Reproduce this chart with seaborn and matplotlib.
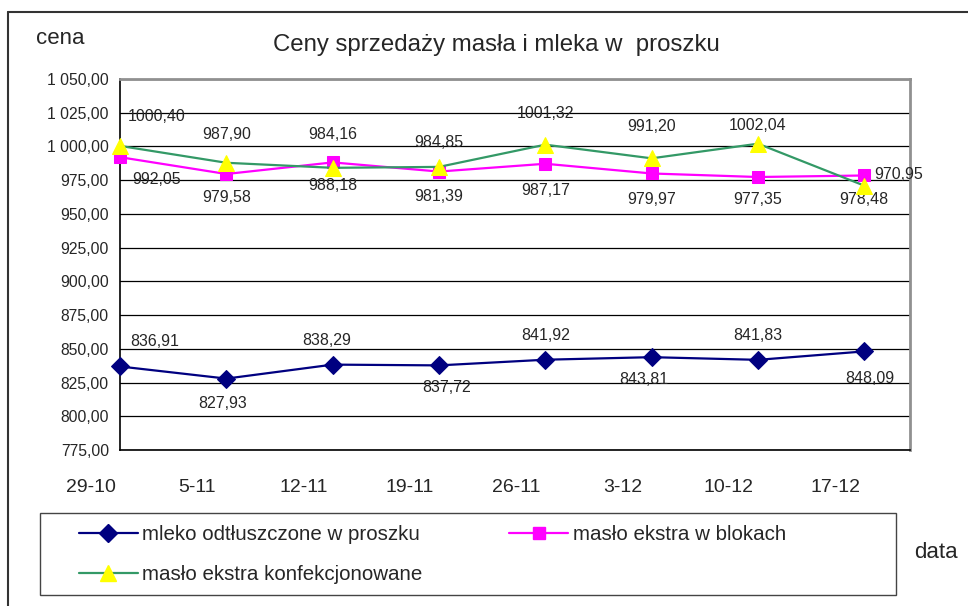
import matplotlib
matplotlib.use("Agg")
import matplotlib.pyplot as plt
import matplotlib.transforms as mtransforms
from matplotlib.lines import Line2D
from matplotlib.patches import Rectangle
from matplotlib.ticker import FuncFormatter, MultipleLocator, FixedLocator, NullFormatter
import seaborn as sns
import pandas as pd

# dane
daty = ["29-10", "5-11", "12-11", "19-11", "26-11", "3-12", "10-12", "17-12"]
mleko = [836.91, 827.93, 838.29, 837.72, 841.92, 843.81, 841.83, 848.09]
maslo_bloki = [992.05, 979.58, 988.18, 981.39, 987.17, 979.97, 977.35, 978.48]
maslo_konf = [1000.40, 987.90, 984.16, 984.85, 1001.32, 991.20, 1002.04, 970.95]

nazwy = ["mleko odtłuszczone w proszku", "masło ekstra w blokach",
         "masło ekstra konfekcjonowane"]

# przesuniecia etykiet danych (piksele)
off_mleko = [(35, 25), (-4, -25), (-6, 24), (8, -22), (0, 24), (-8, -22), (0, 24), (6, -27)]
off_bloki = [(37, -22), (0, -23), (0, -23), (0, -25), (0, -27), (0, -26), (0, -22), (0, -24)]
off_konf = [(37, 29), (0, 28), (0, 33), (0, 24), (0, 31), (0, 32), (0, 18), (34, 11)]

sns.set_style("white")
plt.rcParams['font.family'] = ['Liberation Sans', 'DejaVu Sans']

fig = plt.figure(figsize=(9.68, 6.06), dpi=100)
ax = fig.add_axes([120 / 968, 1 - 450 / 606, 790 / 968, 371 / 606])

df = pd.DataFrame({"x": range(len(daty)), "mleko": mleko,
                   "bloki": maslo_bloki, "konf": maslo_konf})

sns.lineplot(data=df, x="x", y="mleko", ax=ax, color="#000080", lw=1.6,
             marker="D", markersize=9, markeredgecolor="#000080",
             markerfacecolor="#000080", clip_on=False, zorder=3)
sns.lineplot(data=df, x="x", y="bloki", ax=ax, color="#FF00FF", lw=1.6,
             marker="s", markersize=9, markeredgecolor="#FF00FF",
             markerfacecolor="#FF00FF", clip_on=False, zorder=3)
sns.lineplot(data=df, x="x", y="konf", ax=ax, color="#339966", lw=1.6,
             marker="^", markersize=12, markeredgecolor="#FFFF00",
             markerfacecolor="#FFFF00", clip_on=False, zorder=4)

def fmt(v):
    return f"{v:.2f}".replace(".", ",")

for seria, offs in [(mleko, off_mleko), (maslo_bloki, off_bloki), (maslo_konf, off_konf)]:
    for i, v in enumerate(seria):
        ax.annotate(fmt(v), (i, v), xytext=offs[i], textcoords="offset pixels",
                    ha="center", va="center", fontsize=11.5)

ax.set_ylim(775, 1050)
ax.set_xlim(0, 7.43)
ax.yaxis.set_major_locator(MultipleLocator(25))
ax.yaxis.set_major_formatter(FuncFormatter(
    lambda v, p: f"{v:,.2f}".replace(",", " ").replace(".", ",")))
ax.grid(axis="y", color="black", lw=0.9)
ax.set_axisbelow(True)

# znaczniki osi X w punktach, etykiety przesuniete w lewo (jak w Excelu)
ax.xaxis.set_major_locator(FixedLocator(range(len(daty))))
ax.xaxis.set_major_formatter(NullFormatter())
ax.tick_params(axis="x", direction="out", length=6, width=1, color="black")
ax.tick_params(axis="y", direction="out", length=5, width=1, color="black",
               labelsize=11.3, pad=3)
tr_x = mtransforms.offset_copy(ax.get_xaxis_transform(), fig=fig,
                               x=-29, y=-37, units="dots")
for i, d in enumerate(daty):
    ax.text(i, 0, d, transform=tr_x, ha="center", va="center",
            fontsize=14, clip_on=False)
ax.set_xlabel("")
ax.set_ylabel("")

for s in ["left", "bottom"]:
    ax.spines[s].set_color("black")
    ax.spines[s].set_linewidth(1.2)
for s in ["top", "right"]:
    ax.spines[s].set_color("#909090")
    ax.spines[s].set_linewidth(2)

fig.text(496 / 968, 1 - 45 / 606, "Ceny sprzedaży masła i mleka w  proszku",
         ha="center", va="center", fontsize=17.3)
fig.text(36 / 968, 1 - 38 / 606, "cena", ha="left", va="center", fontsize=16)
fig.text(914 / 968, 1 - 552 / 606, "data", ha="left", va="center", fontsize=16)

# ramka wykresu
fig.add_artist(Line2D([8 / 968, 1], [1 - 12 / 606, 1 - 12 / 606],
                      transform=fig.transFigure, color="#333333", lw=1.5))
fig.add_artist(Line2D([8 / 968, 8 / 968], [0, 1 - 12 / 606],
                      transform=fig.transFigure, color="#333333", lw=1.5))

# legenda
fig.add_artist(Rectangle((40 / 968, 1 - 595 / 606), 856 / 968, 82 / 606,
                         transform=fig.transFigure, fill=False,
                         edgecolor="#444444", lw=1))
uchwyty = [
    Line2D([], [], color="#000080", lw=1.6, marker="D", markersize=9,
           markerfacecolor="#000080", markeredgecolor="#000080"),
    Line2D([], [], color="#339966", lw=1.6, marker="^", markersize=12,
           markerfacecolor="#FFFF00", markeredgecolor="#FFFF00"),
    Line2D([], [], color="#FF00FF", lw=1.6, marker="s", markersize=9,
           markerfacecolor="#FF00FF", markeredgecolor="#FF00FF"),
]
fig.legend(uchwyty, [nazwy[0], nazwy[2], nazwy[1]], ncol=2, frameon=False,
           loc="upper left", bbox_to_anchor=(60 / 968, 1 - 507 / 606),
           fontsize=14.8, handlelength=2.9, handletextpad=0.2,
           columnspacing=4.2, labelspacing=1.0, numpoints=1)

fig.savefig("out.png", dpi=100)
